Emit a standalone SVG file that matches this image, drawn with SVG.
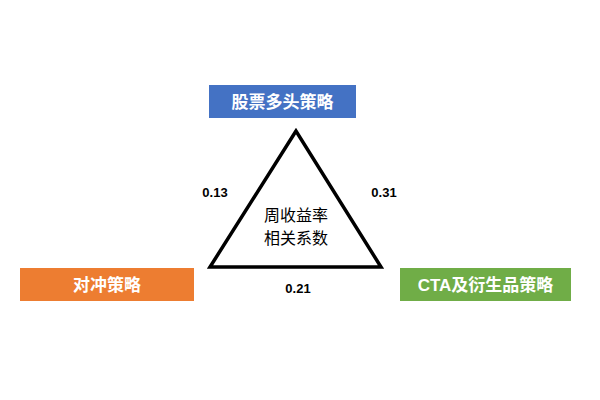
<svg xmlns="http://www.w3.org/2000/svg" width="600" height="400" viewBox="0 0 600 400">
<style>
.lbl{font-family:"Liberation Sans","Noto Sans CJK SC",sans-serif;font-size:17px;fill:#fff;font-weight:bold;text-anchor:middle}
.num{font-family:"Liberation Sans","Noto Sans CJK SC",sans-serif;font-size:13px;fill:#000;font-weight:bold;text-anchor:middle}
.mid{font-family:"Liberation Sans","Noto Sans CJK SC",sans-serif;font-size:16px;fill:#000;text-anchor:middle}
</style>
<rect width="600" height="400" fill="#fff"/>
<g id="connectors">
<polygon points="296,131 210,267 381,267" fill="#fff" stroke="#000" stroke-width="3.5" stroke-linejoin="miter"/>
<text class="num" x="215" y="197">0.13</text>
<text class="num" x="384" y="197">0.31</text>
<text class="num" x="298" y="293">0.21</text>
<text class="mid" x="296" y="221">周收益率</text>
<text class="mid" x="296" y="244">相关系数</text>
</g>
<g id="node-stock">
<rect x="209" y="85" width="147" height="33" fill="#4472c4"/>
<text class="lbl" x="282.5" y="108">股票多头策略</text>
</g>
<g id="node-hedge">
<rect x="20" y="268" width="174" height="33" fill="#ed7d31"/>
<text class="lbl" x="107" y="291">对冲策略</text>
</g>
<g id="node-cta">
<rect x="400" y="268" width="171" height="33" fill="#70ad47"/>
<text class="lbl" x="485.5" y="291">CTA及衍生品策略</text>
</g>
</svg>
